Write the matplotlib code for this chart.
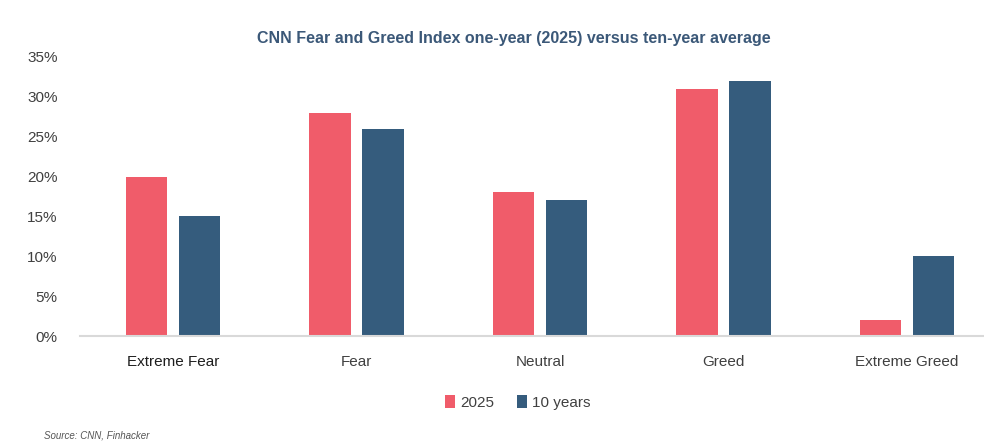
import matplotlib
matplotlib.use('Agg')
import matplotlib.pyplot as plt
import numpy as np

categories = ['Extreme Fear', 'Fear', 'Neutral', 'Greed', 'Extreme Greed']
one_year = [20, 28, 18, 31, 2]
ten_year = [15, 26, 17, 32, 10]
series_labels = ['2025', '10 years']
yticks = [0, 5, 10, 15, 20, 25, 30, 35]

RED = '#F05C6A'
BLUE = '#355C7D'

plt.rcParams['font.family'] = ['Liberation Sans', 'DejaVu Sans']

fig = plt.figure(figsize=(9.84, 4.48), dpi=100)
ax = fig.add_axes([0.0813, 0.25, 0.9187, 0.623])

x = np.arange(len(categories))
w = 0.226
off = 0.1447
ax.bar(x - off, one_year, w, color=RED, label=series_labels[0])
ax.bar(x + off, ten_year, w, color=BLUE, label=series_labels[1])

ax.set_xlim(-0.507, 4.42)
ax.set_ylim(0, 35)
ax.set_yticks(yticks)
ax.set_yticklabels([f'{t}%' for t in yticks])
ax.set_xticks(x)
ax.set_xticklabels(categories)
ax.tick_params(axis='both', length=0, labelsize=11, colors='#404040')
ax.tick_params(axis='x', pad=14)
ax.tick_params(axis='y', pad=16)
ax.get_xticklabels()[0].set_color('#1E1E1E')

for s in ['top', 'right', 'left']:
    ax.spines[s].set_visible(False)
ax.spines['bottom'].set_color('#D9D9D9')
ax.spines['bottom'].set_linewidth(1.5)

fig.text(0.5226, 0.913, 'CNN Fear and Greed Index one-year (2025) versus ten-year average',
         ha='center', va='center', fontsize=11.5, fontweight='bold', color='#3B5878')

fig.legend(loc='center', bbox_to_anchor=(0.526, 0.102), ncol=2, frameon=False,
           fontsize=11, handlelength=0.7, handleheight=0.9, handletextpad=0.3,
           columnspacing=1.5, labelcolor='#404040')

fig.text(0.045, 0.027, 'Source: CNN, Finhacker', fontsize=7, style='italic',
         color='#555555', ha='left', va='center')

plt.savefig('out.png', dpi=100)
